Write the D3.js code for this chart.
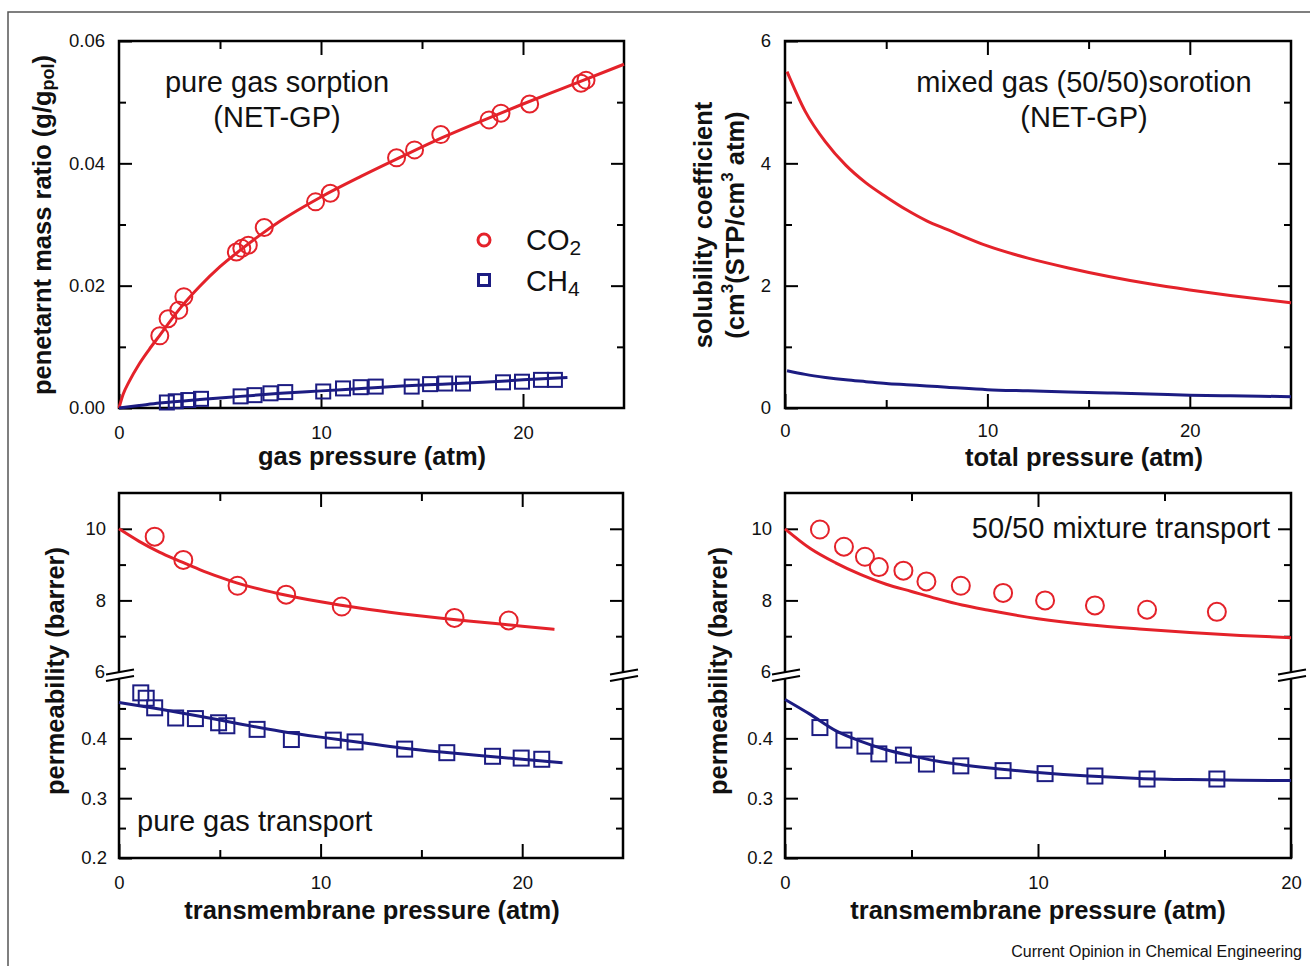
<!DOCTYPE html>
<html>
<head>
<meta charset="utf-8">
<script src="https://cdn.jsdelivr.net/npm/d3@7"></script>
<style>
body { margin: 0; background: #fff; }
text { font-family: "Liberation Sans", Arial, Helvetica, sans-serif; fill: #111; }
</style>
</head>
<body>
<svg id="fig" width="1310" height="966"></svg>
<script>
// ---- data ----
// (a) pure gas sorption, gas pressure (atm) vs penetrant mass ratio
const co2SorpP = [2.02, 2.43, 2.96, 3.21, 5.81, 6.08, 6.40, 7.19, 9.73, 10.46, 13.74, 14.63, 15.93, 18.32, 18.91, 20.33, 22.87, 23.12];
const co2SorpW = [0.0118, 0.0146, 0.0160, 0.0182, 0.0255, 0.0261, 0.0266, 0.0295, 0.0337, 0.0351, 0.0409, 0.0422, 0.0447, 0.0471, 0.0482, 0.0497, 0.0531, 0.0536];
const co2SorpFitP = [0, 0.2, 0.5, 1, 1.5, 2, 3, 4, 5, 6, 7, 8, 10, 12, 14, 16, 18, 20, 22, 25];
const co2SorpFitW = [0, 0.0022, 0.0043, 0.0072, 0.0096, 0.0118, 0.0162, 0.0199, 0.0231, 0.0258, 0.0283, 0.0306, 0.0345, 0.0379, 0.0411, 0.0442, 0.0470, 0.0497, 0.0523, 0.0562];
const ch4SorpP = [2.37, 2.81, 3.43, 4.06, 6.02, 6.71, 7.50, 8.23, 10.11, 11.09, 11.96, 12.71, 14.49, 15.40, 16.15, 17.03, 19.01, 19.95, 20.89, 21.58];
const ch4SorpW = [0.0009, 0.0011, 0.0013, 0.0015, 0.0019, 0.0021, 0.0024, 0.0026, 0.0027, 0.0032, 0.0034, 0.0035, 0.0035, 0.0039, 0.0040, 0.0040, 0.0042, 0.0043, 0.0046, 0.0046];
const ch4SorpFitP = [0, 1, 2, 4, 6, 8, 10, 12, 14, 16, 18, 20, 22.2];
const ch4SorpFitW = [0, 0.0004, 0.0008, 0.0014, 0.0019, 0.0024, 0.0028, 0.0032, 0.0036, 0.0039, 0.0042, 0.0046, 0.0050];

// (b) mixed gas sorption, solubility coefficient
const mixSorpP = [0.1, 1, 2, 3, 4, 5, 6, 7, 8, 10, 12, 14, 16, 18, 20, 22, 25];
const mixCo2S = [5.50, 4.85, 4.35, 3.97, 3.68, 3.45, 3.24, 3.06, 2.92, 2.65, 2.45, 2.29, 2.15, 2.03, 1.93, 1.84, 1.72];
const mixCh4S = [0.61, 0.55, 0.50, 0.46, 0.43, 0.40, 0.38, 0.36, 0.34, 0.30, 0.28, 0.26, 0.245, 0.23, 0.21, 0.20, 0.185];

// (c) pure gas transport, permeability (barrer)
const co2PureP = [1.77, 3.19, 5.88, 8.29, 11.05, 16.64, 19.33];
const co2PureK = [9.78, 9.13, 8.41, 8.16, 7.83, 7.51, 7.44];
const co2PureFitP = [0, 1, 2, 3, 4, 5, 6, 8, 10, 12, 14, 16, 18, 20, 21.6];
const co2PureFitK = [10.0, 9.65, 9.35, 9.1, 8.86, 8.65, 8.46, 8.18, 7.96, 7.78, 7.63, 7.5, 7.39, 7.28, 7.19];
const ch4PureP = [1.08, 1.35, 1.77, 2.81, 3.79, 4.94, 5.35, 6.85, 8.55, 10.63, 11.71, 14.17, 16.26, 18.53, 19.95, 20.97];
const ch4PureK = [0.476, 0.467, 0.451, 0.434, 0.433, 0.426, 0.421, 0.415, 0.398, 0.397, 0.394, 0.382, 0.376, 0.370, 0.367, 0.365];
const ch4PureFitP = [0, 2, 4, 6, 8, 10, 12, 14, 16, 18, 20, 22];
const ch4PureFitK = [0.46, 0.449, 0.437, 0.424, 0.412, 0.402, 0.393, 0.384, 0.377, 0.371, 0.365, 0.359];

// (d) 50/50 mixture transport
const mixP = [1.38, 2.33, 3.16, 3.71, 4.68, 5.59, 6.95, 8.62, 10.28, 12.25, 14.31, 17.07];
const co2MixK = [9.98, 9.50, 9.22, 8.93, 8.83, 8.53, 8.41, 8.21, 8.00, 7.86, 7.74, 7.68];
const ch4MixK = [0.418, 0.397, 0.387, 0.374, 0.372, 0.357, 0.354, 0.346, 0.341, 0.337, 0.332, 0.332];
const mixFitP = [0, 1, 2, 3, 4, 5, 6, 7, 8, 10, 12, 14, 16, 18, 20];
const co2MixFitK = [10.0, 9.45, 9.05, 8.72, 8.45, 8.25, 8.05, 7.87, 7.73, 7.49, 7.32, 7.2, 7.1, 7.02, 6.96];
const ch4MixFitK = [0.465, 0.44, 0.413, 0.395, 0.381, 0.371, 0.362, 0.356, 0.351, 0.343, 0.337, 0.333, 0.331, 0.330, 0.3295];

const RED = "#e4222a", NAVY = "#1c1c82";
const FONT = "Liberation Sans, Arial, Helvetica, sans-serif";
const TICK_FS = 18.5, NOTE_FS = 29, TITLE_FS = 25.5;

const svg = d3.select("#fig");

// outer figure border (open at right and bottom)
svg.append("path")
    .attr("d", "M8,966V12H1310")
    .attr("fill", "none")
    .attr("stroke", "#555")
    .attr("stroke-width", 1.5);

// inward ticks using d3 axes, domain line removed
function ticks(axisFn, scale, tx, ty, vals, len, fmt, pad) {
    const a = axisFn(scale).tickValues(vals).tickSize(-len).tickSizeOuter(0).tickPadding(pad || 14);
    a.tickFormat(fmt ? fmt : () => "");
    const g = svg.append("g")
        .attr("transform", `translate(${tx},${ty})`)
        .call(a);
    g.select(".domain").remove();
    g.attr("font-family", FONT).attr("font-size", TICK_FS);
    g.selectAll("line").attr("stroke", "#000").attr("stroke-width", 2);
    g.selectAll("text").attr("fill", "#111");
    return g;
}

function frame(x0, x1, y0, y1) {
    svg.append("rect")
        .attr("x", x0).attr("y", y0)
        .attr("width", x1 - x0).attr("height", y1 - y0)
        .attr("fill", "none")
        .attr("stroke", "#000")
        .attr("stroke-width", 2.5);
}

function curve(x, y, P, V, color) {
    svg.append("path")
        .datum(d3.zip(P, V))
        .attr("fill", "none")
        .attr("stroke", color)
        .attr("stroke-width", 3)
        .attr("d", d3.line().x(d => x(d[0])).y(d => y(d[1])).curve(d3.curveMonotoneX));
}

function circles(x, y, P, V, r) {
    svg.append("g").selectAll("circle")
        .data(d3.zip(P, V))
        .enter()
        .append("circle")
        .attr("cx", d => x(d[0]))
        .attr("cy", d => y(d[1]))
        .attr("r", r)
        .attr("fill", "none")
        .attr("stroke", RED)
        .attr("stroke-width", 2);
}

function squares(x, y, P, V, s) {
    svg.append("g").selectAll("rect")
        .data(d3.zip(P, V))
        .enter()
        .append("rect")
        .attr("x", d => x(d[0]) - s / 2)
        .attr("y", d => y(d[1]) - s / 2)
        .attr("width", s)
        .attr("height", s)
        .attr("fill", "none")
        .attr("stroke", NAVY)
        .attr("stroke-width", 2);
}

function label(txt, x, y, size, opts) {
    opts = opts || {};
    const t = svg.append("text")
        .attr("x", x).attr("y", y)
        .attr("font-size", size)
        .attr("font-weight", opts.bold ? "bold" : "normal")
        .attr("text-anchor", opts.anchor || "middle")
        .attr("dominant-baseline", "central");
    if (opts.rotate) t.attr("transform", `rotate(-90,${x},${y})`);
    t.text(txt);
    return t;
}

// ============ (a) top-left: pure gas sorption ============
{
    const x = d3.scaleLinear().domain([0, 25]).range([119, 624]);
    const y = d3.scaleLinear().domain([0, 0.06]).range([408, 41]);
    const f2 = d3.format(".2f");
    ticks(d3.axisBottom, x, 0, 408, [0, 10, 20], 14, d3.format("d"), 18);
    ticks(d3.axisBottom, x, 0, 408, [5, 15], 8);
    ticks(d3.axisTop, x, 0, 41, [10, 20], 14);
    ticks(d3.axisTop, x, 0, 41, [5, 15], 8);
    ticks(d3.axisLeft, y, 119, 0, [0, 0.02, 0.04, 0.06], 13, f2);
    ticks(d3.axisLeft, y, 119, 0, [0.01, 0.03, 0.05], 7);
    ticks(d3.axisRight, y, 624, 0, [0.02, 0.04], 13);
    ticks(d3.axisRight, y, 624, 0, [0.01, 0.03, 0.05], 7);
    frame(119, 624, 41, 408);

    curve(x, y, co2SorpFitP, co2SorpFitW, RED);
    curve(x, y, ch4SorpFitP, ch4SorpFitW, NAVY);
    circles(x, y, co2SorpP, co2SorpW, 8.5);
    squares(x, y, ch4SorpP, ch4SorpW, 14);

    label("pure gas sorption", 277, 82, NOTE_FS);
    label("(NET-GP)", 277, 117, NOTE_FS);

    // legend
    svg.append("circle").attr("cx", 484).attr("cy", 240).attr("r", 6)
        .attr("fill", "none").attr("stroke", RED).attr("stroke-width", 3);
    svg.append("rect").attr("x", 478.5).attr("y", 274.5).attr("width", 11).attr("height", 11)
        .attr("fill", "none").attr("stroke", NAVY).attr("stroke-width", 3);
    const l1 = label("CO", 526, 240, NOTE_FS, { anchor: "start" });
    l1.append("tspan").attr("font-size", 21).attr("dy", 7).text("2");
    const l2 = label("CH", 526, 281, NOTE_FS, { anchor: "start" });
    l2.append("tspan").attr("font-size", 21).attr("dy", 7).text("4");

    label("gas pressure (atm)", 372, 456, TITLE_FS, { bold: true });
    const yl = label("penetarnt mass ratio (g/g", 42, 225, TITLE_FS, { bold: true, rotate: true });
    yl.append("tspan").attr("font-size", 18).attr("dy", 6).text("pol");
    yl.append("tspan").attr("dy", -6).text(")");
}

// ============ (b) top-right: mixed gas sorption ============
{
    const x = d3.scaleLinear().domain([0, 25]).range([785, 1291]);
    const y = d3.scaleLinear().domain([0, 6]).range([408, 41]);
    ticks(d3.axisBottom, x, 0, 408, [0, 10, 20], 14, d3.format("d"), 16);
    ticks(d3.axisBottom, x, 0, 408, [5, 15], 8);
    ticks(d3.axisTop, x, 0, 41, [10, 20], 14);
    ticks(d3.axisTop, x, 0, 41, [5, 15], 8);
    ticks(d3.axisLeft, y, 785, 0, [0, 2, 4, 6], 13, d3.format("d"));
    ticks(d3.axisLeft, y, 785, 0, [1, 3, 5], 7);
    ticks(d3.axisRight, y, 1291, 0, [2, 4], 13);
    ticks(d3.axisRight, y, 1291, 0, [1, 3, 5], 7);
    frame(785, 1291, 41, 408);

    curve(x, y, mixSorpP, mixCo2S, RED);
    curve(x, y, mixSorpP, mixCh4S, NAVY);

    label("mixed gas (50/50)sorotion", 1084, 82, NOTE_FS);
    label("(NET-GP)", 1084, 117, NOTE_FS);

    label("total pressure (atm)", 1084, 457, TITLE_FS, { bold: true });
    label("solubility coefficient", 703, 225, TITLE_FS, { bold: true, rotate: true });
    const yl = label("(cm", 735, 225, TITLE_FS, { bold: true, rotate: true });
    yl.append("tspan").attr("font-size", 17).attr("dy", -8).text("3");
    yl.append("tspan").attr("dy", 8).text("(STP/cm");
    yl.append("tspan").attr("font-size", 17).attr("dy", -8).text("3");
    yl.append("tspan").attr("dy", 8).text(" atm)");
}

// broken permeability axis: upper segment 6..11, lower 0.2..0.5
function brokenPanel(x0, x1, xMax, xMajor, xMinor) {
    const x = d3.scaleLinear().domain([0, xMax]).range([x0, x1]);
    const yTop = d3.scaleLinear().domain([6, 11]).range([672, 493]);
    const yBot = d3.scaleLinear().domain([0.2, 0.5]).range([858, 678.5]);
    const f1 = d3.format(".1f");
    ticks(d3.axisBottom, x, 0, 858, [0, 10, 20], 14, d3.format("d"), 18);
    ticks(d3.axisBottom, x, 0, 858, xMinor, 8);
    ticks(d3.axisTop, x, 0, 493, xMajor, 14);
    ticks(d3.axisTop, x, 0, 493, xMinor, 8);
    ticks(d3.axisLeft, yTop, x0, 0, [8, 10], 13, d3.format("d"), 13);
    ticks(d3.axisLeft, yTop, x0, 0, [6], 0, d3.format("d"), 14);
    ticks(d3.axisLeft, yTop, x0, 0, [7, 9], 7);
    ticks(d3.axisLeft, yBot, x0, 0, [0.2, 0.3, 0.4], 13, f1, 12);
    ticks(d3.axisLeft, yBot, x0, 0, [0.25, 0.35, 0.45], 7);
    ticks(d3.axisRight, yTop, x1, 0, [8, 10], 13);
    ticks(d3.axisRight, yTop, x1, 0, [7, 9], 7);
    ticks(d3.axisRight, yBot, x1, 0, [0.3, 0.4], 13);
    ticks(d3.axisRight, yBot, x1, 0, [0.25, 0.35, 0.45], 7);
    frame(x0, x1, 493, 858);

    // axis break marks on both sides
    const u = yTop(6), l = yBot(0.5);
    [x0, x1].forEach(ax => {
        svg.append("polygon")
            .attr("points", `${ax - 13},${u + 2.5} ${ax + 15},${u - 2.5} ${ax + 15},${l - 2.5} ${ax - 13},${l + 2.5}`)
            .attr("fill", "#fff");
        [u, l].forEach(v => {
            svg.append("line")
                .attr("x1", ax - 13).attr("y1", v + 2.5)
                .attr("x2", ax + 15).attr("y2", v - 2.5)
                .attr("stroke", "#000").attr("stroke-width", 2);
        });
    });
    return { x, yTop, yBot };
}

// ============ (c) bottom-left: pure gas transport ============
{
    const { x, yTop, yBot } = brokenPanel(119, 623, 25, [10, 20], [5, 15]);
    curve(x, yTop, co2PureFitP, co2PureFitK, RED);
    curve(x, yBot, ch4PureFitP, ch4PureFitK, NAVY);
    circles(x, yTop, co2PureP, co2PureK, 9);
    squares(x, yBot, ch4PureP, ch4PureK, 15);

    label("pure gas transport", 137, 821, NOTE_FS, { anchor: "start" });
    label("transmembrane pressure (atm)", 372, 910, TITLE_FS, { bold: true });
    label("permeability (barrer)", 55, 671, TITLE_FS, { bold: true, rotate: true });
}

// ============ (d) bottom-right: 50/50 mixture transport ============
{
    const { x, yTop, yBot } = brokenPanel(785, 1291, 20, [10], [5, 15]);
    curve(x, yTop, mixFitP, co2MixFitK, RED);
    curve(x, yBot, mixFitP, ch4MixFitK, NAVY);
    circles(x, yTop, mixP, co2MixK, 9);
    squares(x, yBot, mixP, ch4MixK, 15);

    label("50/50 mixture transport", 1270, 528, NOTE_FS, { anchor: "end" });
    label("transmembrane pressure (atm)", 1038, 910, TITLE_FS, { bold: true });
    label("permeability (barrer)", 718, 671, TITLE_FS, { bold: true, rotate: true });
}

label("Current Opinion in Chemical Engineering", 1302, 951, 16, { anchor: "end" });
</script>
</body>
</html>
